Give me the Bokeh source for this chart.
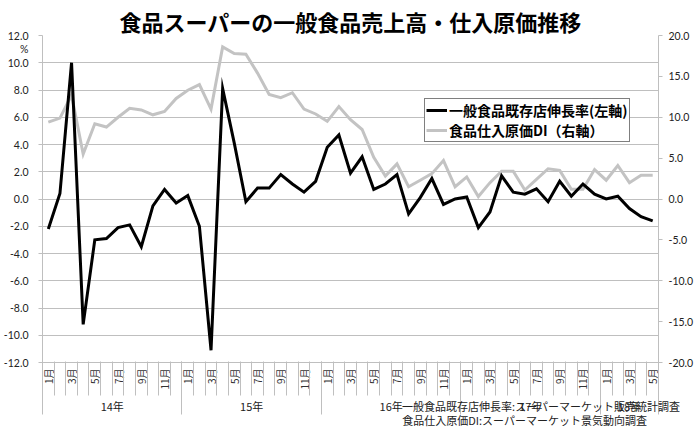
import math
from bokeh.plotting import figure
from bokeh.models import (Range1d, LinearAxis, FixedTicker, Legend, LegendItem,
                          NumeralTickFormatter, InlineStyleSheet)
from bokeh.embed import file_html
from bokeh.resources import INLINE

# ---------------- data ----------------
title_text = "食品スーパーの一般食品売上高・仕入原価推移"
years = ["14年", "15年", "16年", "17年", "18年"]
months_per_year = [12, 12, 12, 12, 5]
month_names = ["1月", "2月", "3月", "4月", "5月", "6月",
               "7月", "8月", "9月", "10月", "11月", "12月"]

# 一般食品既存店伸長率 (%; left axis)
sales_growth = [
    -2.2, 0.4, 10.0, -9.2, -3.0, -2.9, -2.1, -1.9, -3.5, -0.5, 0.7, -0.3,   # 14年
    0.25, -2.0, -11.1, 8.1, 4.1, -0.2, 0.8, 0.8, 1.8, 1.1, 0.5, 1.3,        # 15年
    3.8, 4.7, 1.9, 3.1, 0.7, 1.1, 1.8, -1.1, 0.1, 1.5, -0.4, 0.0,           # 16年
    0.15, -2.1, -0.95, 1.7, 0.5, 0.35, 0.75, -0.2, 1.3, 0.2, 1.1, 0.35,     # 17年
    0.0, 0.2, -0.7, -1.3, -1.6,                                             # 18年
]
# 食品仕入原価DI (right axis)
cost_di = [
    9.4, 9.9, 12.7, 5.5, 9.2, 8.8, 10.0, 11.1, 10.9, 10.3, 10.7, 12.3,      # 14年
    13.3, 14.0, 11.0, 18.6, 17.8, 17.7, 15.4, 12.8, 12.4, 13.0, 11.0, 10.4, # 15年
    9.5, 11.3, 9.7, 8.5, 5.1, 2.8, 4.3, 1.5, 2.3, 3.1, 4.7, 1.5,            # 16年
    2.7, 0.3, 2.0, 3.4, 3.4, 1.1, 2.4, 3.7, 3.5, 1.2, 1.2, 3.6,             # 17年
    2.3, 4.1, 2.0, 2.9, 2.9,                                                # 18年
]
series_names = ["一般食品既存店伸長率(左軸)", "食品仕入原価DI（右軸）"]
left_ticks = [-12, -10, -8, -6, -4, -2, 0, 2, 4, 6, 8, 10, 12]
right_ticks = [-20, -15, -10, -5, 0, 5, 10, 15, 20]
unit_label = "%"
unit_pos = 11.0
source_notes = ["一般食品既存店伸長率:スーパーマーケット販売統計調査",
                "食品仕入原価DI:スーパーマーケット景気動向調査"]

# ---------------- derived positions ----------------
categories = [(y, month_names[m]) for y, c in zip(years, months_per_year) for m in range(c)]
xs = list(range(len(categories)))
n = len(categories)

odd_idx = [i for i in range(n) if month_names.index(categories[i][1]) % 2 == 0]
month_tick_pos = [float(i) for i in odd_idx]
month_tick_lab = {float(i): categories[i][1] for i in odd_idx}
month_bounds = [i - 0.5 for i in range(n + 1)]

year_start = []
s = 0
for c in months_per_year:
    year_start.append(s)
    s += c
year_centers = [st + (c - 1) / 2 for st, c in zip(year_start, months_per_year)]
year_bounds = [st - 0.5 for st in year_start] + [n - 0.5]
note_pos = 42.4   # category position where the source-note block is centred
bottom_ticks = year_centers + [note_pos]
bottom_labels = {float(cx): y for cx, y in zip(year_centers, years)}
# pad the shorter second line (ideographic spaces) so both lines start at the same x
bottom_labels[note_pos] = source_notes[0] + "\n" + source_notes[1] + "\u3000" * 3

GRID = "#bfbfbf"
CJK = "Noto Sans CJK JP"
NUM = "Lato"
TXT = "#222222"

p = figure(width=696, height=432, output_backend="svg", toolbar_location=None,
           x_range=Range1d(-0.5, n - 0.5), y_range=Range1d(-12, 12),
           x_axis_type=None,
           min_border_left=40, min_border_right=38, min_border_top=35, min_border_bottom=70,
           background_fill_color="white", border_fill_color="white")
p.outline_line_color = None
p.stylesheets = [InlineStyleSheet(css=":host { outline: 1px solid #c4c4c4; outline-offset: -2px; }")]

# title
p.title.text = title_text
p.title.align = "center"
p.title.text_font = CJK
p.title.text_font_size = "22px"
p.title.text_font_style = "bold"
p.title.text_color = "black"
p.title.standoff = -2

# left axis (the "%" unit sits in the tick-label column)
ya = p.yaxis[0]
ya.ticker = FixedTicker(ticks=left_ticks + [unit_pos], minor_ticks=left_ticks)
ya.formatter = NumeralTickFormatter(format="0.0")
ya.major_label_overrides = {unit_pos: unit_label}
ya.axis_line_color = GRID
ya.major_tick_line_color = None
ya.major_tick_out = 0
ya.major_tick_in = 0
ya.minor_tick_line_color = GRID
ya.minor_tick_out = 4
ya.minor_tick_in = 0
ya.major_label_standoff = 10
ya.major_label_text_font = NUM
ya.major_label_text_font_size = "10.5px"
ya.major_label_text_color = TXT
p.ygrid.ticker = FixedTicker(ticks=left_ticks)
p.ygrid.grid_line_color = GRID

# right axis
p.extra_y_ranges = {"di": Range1d(-20, 20)}
ra = LinearAxis(y_range_name="di", ticker=FixedTicker(ticks=right_ticks),
                formatter=NumeralTickFormatter(format="0.0"))
ra.axis_line_color = GRID
ra.major_tick_line_color = GRID
ra.major_tick_out = 4
ra.major_tick_in = 0
ra.minor_tick_line_color = None
ra.minor_tick_out = 0
ra.minor_tick_in = 0
ra.major_label_standoff = 6
ra.major_label_text_font = NUM
ra.major_label_text_font_size = "10.5px"
ra.major_label_text_color = TXT
p.add_layout(ra, "right")

# bottom axis 1: month labels (odd months), no ticks
ma = LinearAxis(ticker=FixedTicker(ticks=month_tick_pos, minor_ticks=[]))
ma.major_label_overrides = month_tick_lab
ma.major_label_orientation = math.pi / 2
ma.major_tick_out = 0
ma.major_tick_in = 0
ma.minor_tick_out = 0
ma.minor_tick_in = 0
ma.major_tick_line_color = None
ma.minor_tick_line_color = None
ma.axis_line_color = GRID
ma.major_label_standoff = 6
ma.major_label_text_font = CJK
ma.major_label_text_font_size = "10px"
ma.major_label_text_color = "#333333"
p.add_layout(ma, "below")

# bottom axis 2: separators (month boundaries short, year boundaries long)
sa = LinearAxis(ticker=FixedTicker(ticks=year_bounds, minor_ticks=month_bounds))
sa.major_label_overrides = {float(b): "" for b in year_bounds}
sa.major_label_text_font_size = "1px"
sa.major_label_standoff = 0
sa.major_tick_in = 31
sa.major_tick_out = 22
sa.major_tick_line_color = GRID
sa.minor_tick_in = 31
sa.minor_tick_out = 3
sa.minor_tick_line_color = GRID
sa.axis_line_color = None
p.add_layout(sa, "below")

# bottom axis 3: year labels + source notes
la = LinearAxis(ticker=FixedTicker(ticks=bottom_ticks, minor_ticks=[]))
la.major_label_overrides = bottom_labels
la.major_tick_out = 0
la.major_tick_in = 0
la.minor_tick_out = 0
la.minor_tick_in = 0
la.major_tick_line_color = None
la.minor_tick_line_color = None
la.axis_line_color = None
la.major_label_standoff = -17
la.major_label_text_font = CJK
la.major_label_text_font_size = "11px"
la.major_label_text_line_height = 0.9
la.major_label_text_color = TXT
p.add_layout(la, "below")

# series
r_di = p.line(xs, cost_di, y_range_name="di", line_color="#c3c3c3", line_width=3,
              line_join="miter")
r_sales = p.line(xs, sales_growth, line_color="black", line_width=3, line_join="miter")

legend = Legend(items=[LegendItem(label=series_names[0], renderers=[r_sales]),
                       LegendItem(label=series_names[1], renderers=[r_di])],
                location=(382, 220))
legend.border_line_color = "black"
legend.border_line_width = 1
legend.background_fill_color = "white"
legend.background_fill_alpha = 1
legend.label_text_font = CJK
legend.label_text_font_size = "14px"
legend.label_text_font_style = "bold"
legend.label_text_color = "black"
legend.glyph_width = 21
legend.glyph_height = 14
legend.label_height = 14
legend.label_standoff = 2
legend.padding = 1
legend.spacing = 0
legend.margin = 0
p.add_layout(legend)

open("out.html", "w").write(file_html(p, INLINE))
